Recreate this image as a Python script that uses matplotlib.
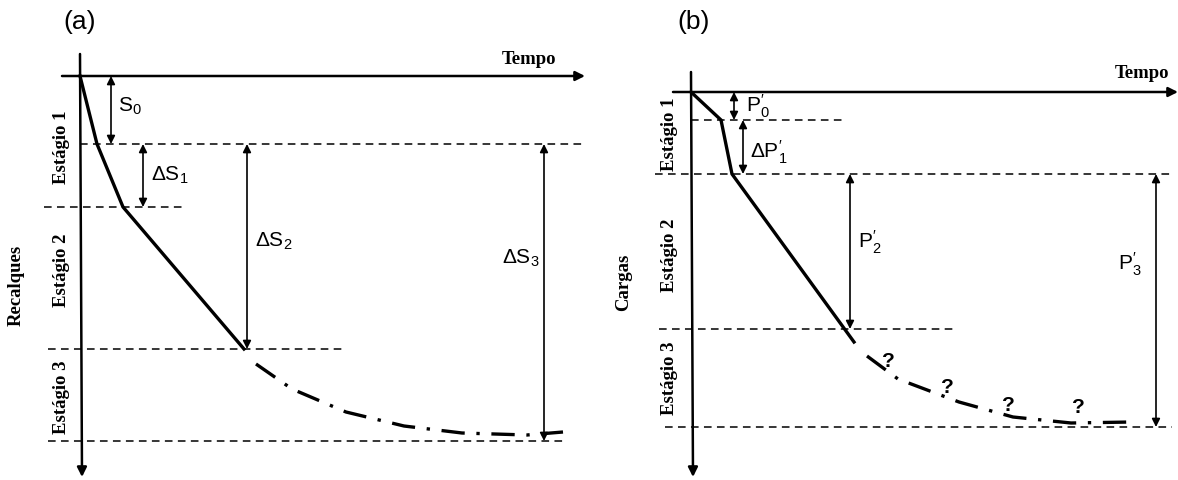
import matplotlib
matplotlib.use("Agg")
import matplotlib.pyplot as plt

# sketch units = pixels of the original figure (x right, y down)

# panel (a): recalques
a_curve_x = [80, 97, 123, 244]
a_curve_y = [77, 145, 208, 350]
a_tail_x = [256, 292, 346, 404, 462, 527, 563]
a_tail_y = [365, 390, 413, 427, 434, 436, 433]
a_levels = [145, 208, 350, 442]
a_level_from = [80, 44, 48, 48]
a_level_to = [583, 183, 346, 563]
a_dim_x = [111, 143, 247, 544]
a_dim_top = [77, 145, 145, 145]
a_dim_bot = [145, 208, 350, 442]
a_dim_labels = [r"$\mathregular{S_0}$", r"$\mathregular{\Delta S_1}$",
                r"$\mathregular{\Delta S_2}$", r"$\mathregular{\Delta S_3}$"]
a_label_xy = [(118, 106), (151, 175), (255, 241), (502, 258)]
a_stages = ["Estágio 1", "Estágio 2", "Estágio 3"]
a_stage_y = [147, 270, 397]

# panel (b): cargas
b_curve_x = [691, 721, 732, 854]
b_curve_y = [93, 121, 175, 343]
b_tail_x = [867, 898, 959, 1013, 1071, 1132]
b_tail_y = [357, 380, 403, 418, 424, 423]
b_levels = [121, 175, 330, 428]
b_level_from = [691, 655, 659, 665]
b_level_to = [846, 1172, 953, 1172]
b_dim_x = [734, 743, 850, 1156]
b_dim_top = [93, 121, 175, 175]
b_dim_bot = [121, 175, 330, 428]
b_dim_labels = [r"$\mathregular{P^{′}_0}$", r"$\mathregular{\Delta P^{′}_1}$",
                r"$\mathregular{P^{′}_2}$", r"$\mathregular{P^{′}_3}$"]
b_label_xy = [(746, 106), (750, 152), (858, 242), (1118, 264)]
b_stages = ["Estágio 1", "Estágio 2", "Estágio 3"]
b_stage_y = [134, 255, 378]
b_quest_x = [888, 947, 1008, 1078]
b_quest_y = [362, 388, 406, 408]

fig = plt.figure(figsize=(11.78, 4.81), dpi=100)
ax = fig.add_axes([0, 0, 1, 1])
ax.set_xlim(0, 1178)
ax.set_ylim(481, 0)
ax.axis("off")

serif = dict(family="Liberation Serif", weight="bold", fontsize=13.5)
sans = dict(family="Liberation Sans", fontsize=15)


def arrow(x0, y0, x1, y1, style, lw=1.2, ms=11):
    ax.annotate("", xy=(x1, y1), xytext=(x0, y0),
                arrowprops=dict(arrowstyle=style, color="black", lw=lw,
                                mutation_scale=ms, shrinkA=0, shrinkB=0))


def panel(cx, cy, tx, ty, levels, lfrom, lto, dim_x, dtop, dbot, dlabels, lxy,
          stages, stage_y, stage_x, origin, xend, ytop, title, title_xy,
          tempo_xy, ylabel, ylabel_xy):
    ox, oy = origin
    # axes
    arrow(ox - 18, oy, xend, oy, "-|>", lw=1.8, ms=14)
    arrow(ox, ytop, ox + 2, 478, "-|>", lw=1.8, ms=14)
    # stage boundaries
    for y, x0, x1 in zip(levels, lfrom, lto):
        ax.plot([x0, x1], [y, y], color="black", lw=1.1, ls=(0, (5, 3.5)))
    # measured curve and extrapolation
    ax.plot(cx, cy, color="black", lw=2.4, solid_joinstyle="miter")
    ax.plot(tx, ty, color="black", lw=2.4, ls=(0, (7, 3.5, 1, 3.5)))
    # dimension arrows
    for i, (x, y0, y1) in enumerate(zip(dim_x, dtop, dbot)):
        arrow(x, y0, x, y1, "<|-|>", lw=1.2, ms=12)
        ax.text(lxy[i][0], lxy[i][1], dlabels[i], ha="left", va="center", **sans)
    for s, y in zip(stages, stage_y):
        ax.text(stage_x, y, s, rotation=90, ha="center", va="center", **serif)
    ax.text(ylabel_xy[0], ylabel_xy[1], ylabel, rotation=90, ha="center",
            va="center", **serif)
    ax.text(tempo_xy[0], tempo_xy[1], "Tempo", ha="center", va="center", **serif)
    ax.text(title_xy[0], title_xy[1], title, ha="center", va="center",
            family="Liberation Sans", fontsize=19)


panel(a_curve_x, a_curve_y, a_tail_x, a_tail_y, a_levels, a_level_from,
      a_level_to, a_dim_x, a_dim_top, a_dim_bot, a_dim_labels, a_label_xy,
      a_stages, a_stage_y, 62, (80, 77), 585, 55, "(a)", (80, 22),
      (529, 60), "Recalques", (16, 285))

panel(b_curve_x, b_curve_y, b_tail_x, b_tail_y, b_levels, b_level_from,
      b_level_to, b_dim_x, b_dim_top, b_dim_bot, b_dim_labels, b_label_xy,
      b_stages, b_stage_y, 669, (691, 93), 1178, 73, "(b)", (694, 22),
      (1142, 74), "Cargas", (624, 282))

for x, y in zip(b_quest_x, b_quest_y):
    ax.text(x, y, "?", ha="center", va="center", family="Liberation Sans",
            weight="bold", fontsize=15)

fig.savefig("out.png", dpi=100)
